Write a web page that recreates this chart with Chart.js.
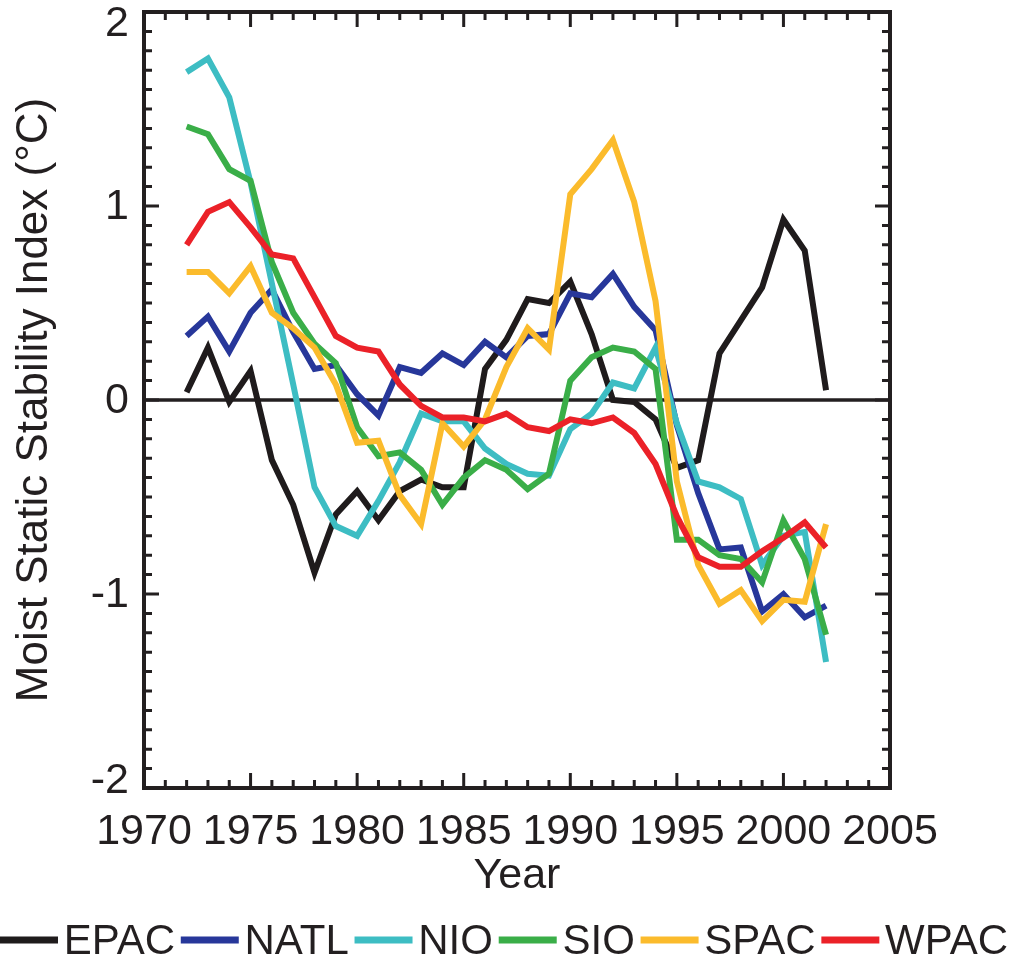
<!DOCTYPE html>
<html>
<head>
<meta charset="utf-8">
<script src="https://cdn.jsdelivr.net/npm/chart.js@4.4.1/dist/chart.umd.min.js"></script>
<style>
  html, body { margin: 0; padding: 0; background: #fff; }
  #wrap { width: 1010px; height: 962px; }
</style>
</head>
<body>
<div id="wrap"><canvas id="msiChart" width="1010" height="962"></canvas></div>
<script>
const years = [1972, 1973, 1974, 1975, 1976, 1977, 1978, 1979, 1980, 1981,
  1982, 1983, 1984, 1985, 1986, 1987, 1988, 1989, 1990, 1991,
  1992, 1993, 1994, 1995, 1996, 1997, 1998, 1999, 2000, 2001, 2002];

const epac = [0.04, 0.27, -0.01, 0.15, -0.31, -0.54, -0.89, -0.59, -0.47, -0.62,
  -0.47, -0.41, -0.45, -0.45, 0.16, 0.31, 0.52, 0.5, 0.61, 0.34,
  0.0, -0.01, -0.1, -0.35, -0.31, 0.24, 0.41, 0.58, 0.93, 0.77, 0.05];
const natl = [0.33, 0.43, 0.25, 0.45, 0.57, 0.35, 0.16, 0.18, 0.03, -0.08,
  0.17, 0.14, 0.24, 0.18, 0.3, 0.22, 0.33, 0.34, 0.55, 0.53,
  0.65, 0.48, 0.36, -0.13, -0.48, -0.77, -0.76, -1.09, -1.0, -1.12, -1.06];
const nio = [1.69, 1.76, 1.56, 1.12, 0.6, 0.08, -0.45, -0.65, -0.7, -0.52,
  -0.32, -0.07, -0.11, -0.11, -0.25, -0.33, -0.38, -0.39, -0.15, -0.07,
  0.09, 0.06, 0.27, -0.12, -0.42, -0.45, -0.51, -0.85, -0.7, -0.68, -1.35];
const sio = [1.41, 1.37, 1.19, 1.13, 0.71, 0.45, 0.29, 0.19, -0.14, -0.29,
  -0.27, -0.36, -0.54, -0.4, -0.31, -0.36, -0.46, -0.38, 0.1, 0.22,
  0.27, 0.25, 0.16, -0.72, -0.72, -0.8, -0.82, -0.94, -0.62, -0.82, -1.21];
const spac = [0.66, 0.66, 0.55, 0.69, 0.45, 0.37, 0.27, 0.08, -0.22, -0.21,
  -0.49, -0.64, -0.12, -0.24, -0.1, 0.17, 0.37, 0.26, 1.06, 1.19,
  1.34, 1.02, 0.51, -0.42, -0.85, -1.05, -0.98, -1.14, -1.03, -1.04, -0.64];
const wpac = [0.8, 0.97, 1.02, 0.89, 0.75, 0.73, 0.53, 0.33, 0.27, 0.25,
  0.08, -0.03, -0.09, -0.09, -0.11, -0.07, -0.14, -0.16, -0.1, -0.12,
  -0.09, -0.17, -0.33, -0.6, -0.81, -0.86, -0.86, -0.78, -0.71, -0.63, -0.76];

const seriesNames = ["EPAC", "NATL", "NIO", "SIO", "SPAC", "WPAC"];
const seriesValues = [epac, natl, nio, sio, spac, wpac];
const seriesColors = ["#1f1b1c", "#27379a", "#3dbdc3", "#3aae48", "#fbbb2c", "#eb2128"];

const xTickLabels = [1970, 1975, 1980, 1985, 1990, 1995, 2000, 2005];
const yTickLabels = [-2, -1, 0, 1, 2];

const ink = "#231f20";
const fontFamily = "'Liberation Sans', Arial, Helvetica, sans-serif";

const frameAndLegend = {
  id: "frameAndLegend",
  beforeDatasetsDraw(chart) {
    const { ctx, chartArea: a, scales } = chart;
    const y0 = scales.y.getPixelForValue(0);
    ctx.save();
    ctx.strokeStyle = ink;
    ctx.lineWidth = 3.5;
    ctx.beginPath();
    ctx.moveTo(a.left, y0);
    ctx.lineTo(a.right, y0);
    ctx.stroke();
    ctx.restore();
  },
  afterDatasetsDraw(chart) {
    const { ctx, chartArea: a, scales } = chart;
    const { x, y } = scales;
    ctx.save();
    ctx.strokeStyle = ink;
    ctx.lineWidth = 3;
    ctx.beginPath();
    // year ticks, top and bottom, long every 5 years
    for (let yr = x.min; yr <= x.max; yr++) {
      const px = x.getPixelForValue(yr);
      const len = yr % 5 === 0 ? 15 : 8;
      ctx.moveTo(px, a.bottom);
      ctx.lineTo(px, a.bottom - len);
      ctx.moveTo(px, a.top);
      ctx.lineTo(px, a.top + len);
    }
    // index ticks, left and right, long every 1
    for (let i = -20; i <= 20; i++) {
      const py = y.getPixelForValue(i / 10);
      const len = i % 10 === 0 ? 15 : 8;
      ctx.moveTo(a.left, py);
      ctx.lineTo(a.left + len, py);
      ctx.moveTo(a.right, py);
      ctx.lineTo(a.right - len, py);
    }
    ctx.stroke();
    ctx.lineWidth = 4;
    ctx.strokeRect(a.left, a.top, a.right - a.left, a.bottom - a.top);

    // y labels, the end ones nudged inside like the original
    ctx.font = `43px ${fontFamily}`;
    ctx.fillStyle = ink;
    ctx.textAlign = "right";
    ctx.textBaseline = "middle";
    yTickLabels.forEach((v) => {
      let py = y.getPixelForValue(v);
      py = Math.min(Math.max(py, a.top + 11), a.bottom - 8);
      ctx.fillText(String(v), a.left - 15, py + 1);
    });
    ctx.restore();
  },
  afterDraw(chart) {
    const { ctx } = chart;
    const lineLen = 58;
    const legendY = 940;
    ctx.save();
    ctx.font = `42px ${fontFamily}`;
    ctx.textBaseline = "middle";
    ctx.fillStyle = ink;
    const widths = seriesNames.map((n) => ctx.measureText(n).width);
    const total = widths.reduce((s, w) => s + w, 0) + lineLen * seriesNames.length;
    const gap = (1008 - total) / (seriesNames.length * 2 - 1);
    let cx = 0;
    seriesNames.forEach((name, i) => {
      ctx.fillStyle = seriesColors[i];
      ctx.fillRect(cx, legendY - 3.5, lineLen, 7);
      cx += lineLen + gap;
      ctx.fillStyle = ink;
      ctx.fillText(name, cx, legendY + 2);
      cx += widths[i] + gap;
    });
    ctx.restore();
  },
};

new Chart(document.getElementById("msiChart"), {
  type: "line",
  data: {
    datasets: seriesNames.map((name, i) => ({
      label: name,
      data: years.map((yr, j) => ({ x: yr, y: seriesValues[i][j] })),
      borderColor: seriesColors[i],
      backgroundColor: seriesColors[i],
      borderWidth: 6,
      pointRadius: 0,
      tension: 0,
      fill: false,
      order: seriesNames.length - i,
    })),
  },
  options: {
    responsive: false,
    animation: false,
    devicePixelRatio: 1,
    layout: {
      padding: { left: 0, top: 12, right: 120, bottom: 54 },
    },
    scales: {
      x: {
        type: "linear",
        min: 1970,
        max: 2005,
        grid: { display: false, drawTicks: false },
        border: { display: false },
        afterBuildTicks: (scale) => {
          scale.ticks = xTickLabels.map((v) => ({ value: v }));
        },
        afterFit: (scale) => {
          scale.height = 120;
          scale.paddingLeft = 0;
          scale.paddingRight = 0;
        },
        ticks: {
          color: ink,
          padding: 18,
          maxRotation: 0,
          autoSkip: false,
          font: { family: fontFamily, size: 43 },
          callback: (v) => String(v),
        },
        title: {
          display: true,
          text: "Year",
          color: ink,
          padding: { top: 0, bottom: 6 },
          font: { family: fontFamily, size: 43 },
        },
      },
      y: {
        type: "linear",
        min: -2,
        max: 2,
        grid: { display: false, drawTicks: false },
        border: { display: false },
        afterBuildTicks: (scale) => {
          scale.ticks = yTickLabels.map((v) => ({ value: v }));
        },
        afterFit: (scale) => {
          scale.width = 144;
          scale.paddingTop = 0;
          scale.paddingBottom = 0;
        },
        ticks: {
          display: false,
        },
        title: {
          display: true,
          text: "Moist Static Stability Index (°C)",
          color: ink,
          padding: { top: 8, bottom: 0 },
          font: { family: fontFamily, size: 44 },
        },
      },
    },
    plugins: {
      legend: { display: false },
      tooltip: { enabled: false },
    },
  },
  plugins: [frameAndLegend],
});
</script>
</body>
</html>
